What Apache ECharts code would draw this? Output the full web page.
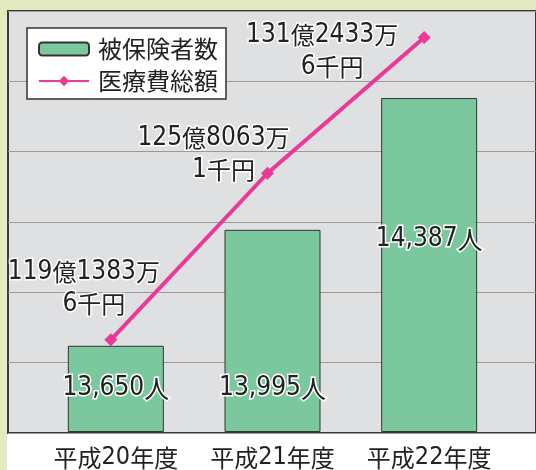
<!DOCTYPE html>
<html><head><meta charset="utf-8">
<script src="https://cdn.jsdelivr.net/npm/echarts@6/dist/echarts.min.js"></script>
<style>html,body{margin:0;padding:0;background:#fff}#c{width:536px;height:470px}</style>
</head><body><div id="c"></div>
<script>
// ---- data ----
const categories = ['平成20年度', '平成21年度', '平成22年度'];
const insuredCounts = [13650, 13995, 14387];           // 被保険者数 (人)
const insuredLabels = ['13,650人', '13,995人', '14,387人'];
const medicalTotals = [119.138, 125.806, 131.243];      // 医療費総額 (億円)
const medicalLabelTop = ['119億1383万', '125億8063万', '131億2433万'];
const medicalLabelBottom = ['6千円', '1千円', '6千円'];

// ---- styling (label placement) ----
const lineLabelOffsets = [[-27, -13], [-54, 19], [-102, 52]];
const barLabelOffsets = [[0, -28], [0, -28], [0, -177]];

const DIG = '"Liberation Sans Narrow","DejaVu Sans Condensed","Roboto",sans-serif';
const CJK = '"Noto Sans CJK JP",sans-serif';
const TXT = '#222';

function tok(str, sfx) {
  return str.match(/[0-9,]+|[^0-9,]+/g)
    .map(t => '{' + (/[0-9]/.test(t) ? 'n' : 'c') + sfx + '|' + t + '}').join('');
}
function richStyles(halo, dsize, csize) {
  const base = halo ? { color: TXT, textBorderColor: '#fff', textBorderWidth: 3 } : { color: TXT };
  return {
    n: Object.assign({ fontFamily: DIG, fontSize: dsize, lineHeight: 32 }, base),
    c: Object.assign({ fontFamily: CJK, fontSize: csize, lineHeight: 32 }, base),
    p: { width: 20, lineHeight: 32 }
  };
}

const chart = echarts.init(document.getElementById('c'));
chart.setOption({
  backgroundColor: '#ffffff',
  animation: false,
  graphic: [
    { type: 'rect', shape: { x: 0, y: 0, width: 536, height: 10 }, style: { fill: '#e2ebc0' }, silent: true },
    { type: 'rect', shape: { x: 0, y: 0, width: 7, height: 470 }, style: { fill: '#e2ebc0' }, silent: true }
  ],
  legend: {
    left: 27, top: 28, orient: 'vertical',
    backgroundColor: '#fff', borderColor: '#333', borderWidth: 1.5,
    padding: [8, 8, 5, 11], itemGap: 6, itemWidth: 50, itemHeight: 13,
    textStyle: { fontFamily: CJK, fontSize: 24, color: TXT, lineHeight: 26, padding: [0, 0, 0, 4] },
    data: [
      { name: '被保険者数', itemStyle: { borderWidth: 2, borderColor: '#333' } },
      { name: '医療費総額' }
    ]
  },
  grid: [
    { left: 8, top: 11, right: -6, bottom: 37, show: true, backgroundColor: '#dfe0e2', borderColor: '#3a3a3a', borderWidth: 2, z: 0 },
    { left: 37.5, top: 11, right: 28.5, bottom: 37 },
    { left: 32.5, top: 11, right: 33.5, bottom: 37 }
  ],
  xAxis: [
    { gridIndex: 0, type: 'value', min: 0, max: 1, show: false },
    { gridIndex: 1, type: 'category', data: categories,
      axisLine: { show: false }, axisTick: { show: false },
      axisLabel: { margin: 10, formatter: v => tok(v, ''), rich: richStyles(false, 25, 24) } },
    { gridIndex: 2, type: 'category', data: categories, show: false }
  ],
  yAxis: [
    { gridIndex: 0, type: 'value', min: 0, max: 6, interval: 1,
      axisLabel: { show: false }, axisLine: { show: false }, axisTick: { show: false },
      splitLine: { show: true, lineStyle: { color: '#9a9a9a', width: 1 } } },
    { gridIndex: 1, type: 'value', min: 13395, max: 14646, show: false, splitLine: { show: false } },
    { gridIndex: 2, type: 'value', min: 115.41, max: 132.3, show: false, splitLine: { show: false } }
  ],
  series: [
    {
      name: '被保険者数', type: 'bar', xAxisIndex: 1, yAxisIndex: 1, barWidth: 96,
      itemStyle: { color: '#7cc89e', borderColor: '#333', borderWidth: 1 },
      data: insuredCounts.map((v, i) => ({
        value: v,
        label: {
          show: true, position: 'insideBottom', distance: 0, offset: barLabelOffsets[i],
          formatter: () => tok(insuredLabels[i], ''), rich: richStyles(true, 26, 25)
        }
      })),
      z: 3
    },
    {
      name: '医療費総額', type: 'line', xAxisIndex: 2, yAxisIndex: 2,
      symbol: 'diamond', symbolSize: 13,
      lineStyle: { color: '#ec3896', width: 4 },
      itemStyle: { color: '#ec3896' },
      data: medicalTotals.map((v, i) => ({
        value: v,
        label: {
          show: true, position: 'top', distance: 0, offset: lineLabelOffsets[i], align: 'center',
          formatter: () => tok(medicalLabelTop[i], '') + '\n{p|}' + tok(medicalLabelBottom[i], ''),
          rich: richStyles(true, 26, 24)
        }
      })),
      z: 5
    }
  ]
});
</script></body></html>
